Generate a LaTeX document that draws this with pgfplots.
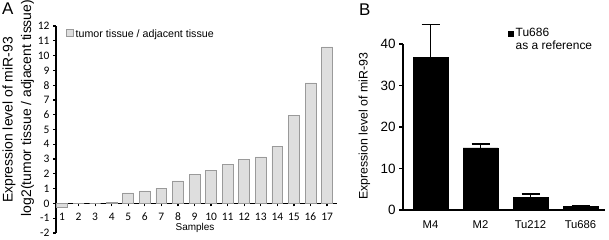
\documentclass[border=0pt]{standalone}
\usepackage{pgfplots}
\pgfplotsset{compat=1.18}
\usepackage{fontspec}
\setmainfont{Liberation Sans}
\newfontfamily\calib{Carlito}
\definecolor{barfill}{HTML}{DEDEDE}
\definecolor{baredge}{HTML}{9A9A9A}
\begin{document}
\begin{tikzpicture}
\useasboundingbox (0,0) rectangle (609bp,240bp);
% Panel A
\begin{axis}[
  at={(56bp,7bp)}, anchor=south west,
  scale only axis, width=281bp, height=207bp,
  xmin=0.64, xmax=17.6, ymin=-2, ymax=12,
  axis x line*=middle, axis y line*=left,
  axis line style={-, line width=1.3bp, black},
  xtick={1,...,17}, ytick={-2,...,12},
  tick align=outside, major tick length=3bp,
  tick style={line width=1.2bp, black},
  ticklabel style={font=\fontsize{11.5}{13}\selectfont\calib},
  xticklabel style={yshift=-3bp},
  /pgf/number format/assume math mode=true,
  ybar, bar width=0.66,
  legend style={at={(rel axis cs:0.035,0.99)}, anchor=north west, draw=none, fill=none,
    inner sep=0pt, font=\fontsize{10.7}{12}\selectfont},
  legend image code/.code={\draw[#1] (0bp,-1bp) rectangle (7bp,6bp);},
  clip=false,
]
\addplot[fill=barfill, draw=baredge, line width=0.7bp] coordinates {
 (1,-0.26) (2,0) (3,0) (4,0.06) (5,0.71) (6,0.85) (7,1.01) (8,1.52) (9,1.97)
 (10,2.22) (11,2.65) (12,2.95) (13,3.15) (14,3.88) (15,5.96) (16,8.15) (17,10.58)};
\addlegendentry{tumor tissue / adjacent tissue}
\end{axis}
\node[inner sep=0pt, anchor=north west, font=\fontsize{17}{20}\selectfont] at (2bp,237bp) {A};
\node[rotate=90, inner sep=0pt, font=\fontsize{14}{16}\selectfont] at (9bp,120bp) {Expression level of miR-93};
\node[rotate=90, inner sep=0pt, font=\fontsize{14}{16}\selectfont] at (27.5bp,132bp) {log2(tumor tissue / adjacent tissue)};
\node[inner sep=0pt, font=\fontsize{10}{12}\selectfont] at (195bp,12bp) {Samples};
% Panel B
\begin{axis}[
  at={(403bp,30bp)}, anchor=south west,
  scale only axis, width=202bp, height=166bp,
  xmin=-0.55, xmax=3.49, ymin=0, ymax=40,
  axis x line*=bottom, axis y line*=left,
  axis line style={-, line width=1.4bp, black},
  xtick={0,1,2,3}, xticklabels={M4,M2,Tu212,Tu686},
  ytick={0,10,20,30,40},
  tick align=outside, major tick length=4bp,
  x tick style={draw=none},
  y tick style={line width=1.3bp, black},
  yticklabel style={font=\fontsize{13.5}{15}\selectfont},
  xticklabel style={font=\fontsize{11.3}{13}\selectfont, yshift=-3bp},
  /pgf/number format/assume math mode=true,
  ybar, bar width=0.7,
  legend style={at={(rel axis cs:0.52,1.11)}, anchor=north west, draw=none, fill=none,
    inner sep=0pt, font=\fontsize{12}{14}\selectfont, row sep=-1bp},
  legend cell align=left,
  legend image code/.code={\fill[black] (0bp,-3bp) rectangle (5bp,2bp);},
  clip=false,
]
\addplot[fill=black, draw=black, line width=0.5bp,
  error bars/.cd, y dir=plus, y explicit,
  error bar style={line width=1.6bp, black},
  error mark options={rotate=90, line width=1.6bp, mark size=9bp, black}]
  coordinates {(0,36.8) +- (0,7.9) (1,15.0) +- (0,0.9) (2,3.1) +- (0,0.75) (3,0.8) +- (0,0.22)};
\addlegendentry{Tu686}
\addlegendimage{empty legend}
\addlegendentry{as a reference}
\end{axis}
\node[inner sep=0pt, anchor=north west, font=\fontsize{17}{20}\selectfont] at (359bp,236bp) {B};
\node[rotate=90, inner sep=0pt, font=\fontsize{12.4}{14}\selectfont] at (364.5bp,113.5bp) {Expression level of miR-93};
\end{tikzpicture}
\end{document}
